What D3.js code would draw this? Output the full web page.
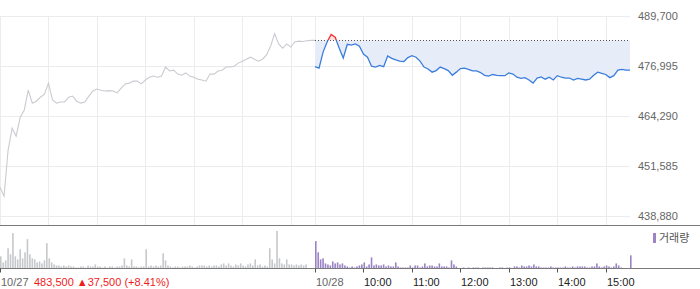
<!DOCTYPE html>
<html>
<head>
<meta charset="utf-8">
<script src="https://cdn.jsdelivr.net/npm/d3@7"></script>
<style>
  body { margin: 0; background: #fff; }
  svg { display: block; font-family: "Liberation Sans", Arial, sans-serif; }
</style>
</head>
<body>
<div id="chart"></div>
<script>
/* DATA */
const prevClose = 483500;
const priceStep = 5;   // minutes between price points
const volStep = 3;     // minutes between volume bars
const dayMinutes = 390;

// 10/27, 09:00 -> 15:30
const day1Price = [
  446100, 443800, 455500, 461100, 459100, 463900, 465700, 470800, 467500, 468000,
  469000, 469800, 472600, 468300, 467500, 467800, 467800, 469000, 469300, 468000,
  467500, 467800, 469300, 470600, 471100, 470800, 470600, 470700, 470600, 470100,
  471300, 472400, 472600, 473100, 473100, 472400, 473400, 474100, 474400, 474100,
  474400, 476700, 475700, 475900, 474900, 474600, 475200, 474400, 474100, 473600,
  473400, 473100, 474900, 474900, 475700, 475900, 476700, 476700, 476900, 477700,
  478200, 478700, 479200, 478700, 478200, 478700, 479800, 482000, 485200, 482600,
  481500, 482600, 481800, 483100, 483300, 483200, 483400, 483500, 483500
];

// 10/28, 09:00 -> 15:30
const day2Price = [
  476800, 476400, 480500, 483100, 485000, 484300, 481500, 479000, 482500, 482300,
  482600, 482000, 480000, 479200, 476900, 476700, 477100, 476800, 479500, 478900,
  478500, 478200, 478100, 479100, 479600, 479200, 478200, 476700, 476200, 475400,
  475800, 476700, 476300, 475800, 474600, 475400, 476300, 476400, 476100, 475700,
  475700, 475300, 474600, 474400, 474800, 474600, 474500, 474500, 475200, 474900,
  474100, 473800, 474000, 473400, 472600, 473900, 474200, 473600, 474100, 473400,
  474500, 474100, 473900, 473900, 473400, 473800, 473600, 473400, 473600, 474600,
  475400, 475100, 474800, 474000, 474500, 475900, 476100, 475900, 475900
];

// volume, thousand shares
const day1Vol = [
  12, 6, 8, 20, 14, 35, 12, 9, 19, 10, 16, 29, 14, 10, 9, 6, 7, 5, 8, 25,
  10, 6, 4, 3, 3, 2, 3, 2, 3, 2, 2, 1, 1, 2, 2, 1, 3, 2, 2, 4,
  2, 2, 1, 2, 1, 2, 2, 1, 2, 2, 3, 10, 3, 2, 9, 2, 2, 1, 2, 2,
  19, 2, 3, 2, 3, 2, 3, 15, 8, 3, 2, 1, 2, 2, 1, 2, 2, 2, 3, 2,
  1, 2, 3, 3, 3, 2, 3, 2, 3, 3, 2, 4, 5, 3, 5, 3, 2, 4, 3, 5,
  3, 2, 4, 5, 3, 9, 3, 4, 2, 3, 2, 20, 9, 5, 37, 10, 5, 4, 9, 4,
  4, 3, 4, 3, 4, 3, 4, 0, 0, 0
];
const day2Vol = [
  27, 16, 9, 10, 5, 4, 3, 7, 5, 6, 4, 5, 3, 2, 1, 2, 1, 2, 3, 4,
  6, 2, 4, 11, 3, 4, 3, 3, 4, 2, 3, 2, 2, 6, 2, 1, 1, 1, 1, 3,
  1, 3, 3, 1, 2, 5, 2, 3, 3, 2, 2, 5, 2, 2, 2, 1, 8, 4, 2, 0,
  0, 1, 0, 1, 0, 1, 1, 1, 0, 1, 1, 1, 1, 1, 0, 0, 1, 1, 0, 1,
  1, 0, 2, 2, 1, 3, 2, 2, 3, 2, 4, 2, 2, 1, 1, 1, 1, 2, 1, 1,
  1, 1, 1, 2, 1, 1, 2, 1, 2, 2, 2, 2, 1, 1, 2, 2, 5, 2, 1, 2,
  3, 2, 1, 2, 5, 3, 1, 0, 0, 0, 13
];

const yTicks = [438880, 451585, 464290, 476995, 489700];
const dateLabels = ["10/27", "10/28"];
const hourLabels = ["10:00", "11:00", "12:00", "13:00", "14:00", "15:00"];
const changeText = "483,500 \u25B237,500 (+8.41%)";

/* LAYOUT */
const W = 700, H = 289,
  plotRight = 630,
  priceTop = 16, priceBottom = 215.5,
  panelLine = 225.5,
  volBottom = 268.5, volTop = 231;

const svg = d3.select("#chart").append("svg")
  .attr("width", W).attr("height", H);

/* SCALES */
const x = d3.scaleLinear().domain([0, dayMinutes * 2]).range([0, plotRight]);
const y = d3.scaleLinear().domain([d3.min(yTicks), d3.max(yTicks)]).range([priceBottom, priceTop]);
const yVol = d3.scaleLinear().domain([0, 37]).range([volBottom, volTop]);

const p1 = day1Price.map((v, i) => ({ t: i * priceStep, v }));
const p2 = day2Price.map((v, i) => ({ t: dayMinutes + i * priceStep, v }));

// hour grid positions (both days)
const hourTimes = [];
for (let d = 0; d < 2; d++) for (let h = 1; h <= 6; h++) hourTimes.push(d * dayMinutes + h * 60);

/* GRID */
const grid = svg.append("g").attr("stroke", "#ececec").attr("stroke-width", 1);
grid.selectAll(".hg").data(yTicks).join("line")
  .attr("x1", 0).attr("x2", plotRight)
  .attr("y1", d => Math.round(y(d)) + 0.5).attr("y2", d => Math.round(y(d)) + 0.5);
grid.selectAll(".vg").data([0, dayMinutes, ...hourTimes]).join("line")
  .attr("x1", d => Math.round(x(d)) + 0.5).attr("x2", d => Math.round(x(d)) + 0.5)
  .attr("y1", priceTop).attr("y2", panelLine);

/* Y AXIS (right) */
svg.append("g")
  .attr("transform", `translate(${plotRight + 8},0)`)
  .call(d3.axisRight(y).tickValues(yTicks).tickFormat(d3.format(",")).tickSize(0).tickPadding(0))
  .call(g => g.select(".domain").remove())
  .selectAll("text")
  .attr("fill", "#666").attr("font-size", 11);

/* PRICE - previous day */
const line = d3.line().x(d => x(d.t)).y(d => y(d.v));
svg.append("path").datum(p1)
  .attr("d", line).attr("fill", "none")
  .attr("stroke", "#c9cbd0").attr("stroke-width", 1.1);

/* PRICE - today, split around previous close */
const base = y(prevClose);
const defs = svg.append("defs");
defs.append("clipPath").attr("id", "above")
  .append("rect").attr("x", 0).attr("y", 0).attr("width", W).attr("height", base);
defs.append("clipPath").attr("id", "below")
  .append("rect").attr("x", 0).attr("y", base).attr("width", W).attr("height", panelLine - base);

const area = d3.area().x(d => x(d.t)).y0(base).y1(d => y(d.v));

svg.append("path").datum(p2).attr("d", area)
  .attr("fill", "#e6edf9").attr("clip-path", "url(#below)");
svg.append("path").datum(p2).attr("d", area)
  .attr("fill", "#fbe3e3").attr("clip-path", "url(#above)");

svg.append("line")
  .attr("x1", x(dayMinutes)).attr("x2", plotRight)
  .attr("y1", Math.round(base) + 0.5).attr("y2", Math.round(base) + 0.5)
  .attr("stroke", "#555").attr("stroke-dasharray", "1,2");

svg.append("path").datum(p2).attr("d", line)
  .attr("fill", "none").attr("stroke", "#3b7ddd").attr("stroke-width", 1.3)
  .attr("clip-path", "url(#below)");
svg.append("path").datum(p2).attr("d", line)
  .attr("fill", "none").attr("stroke", "#f2302f").attr("stroke-width", 1.3)
  .attr("clip-path", "url(#above)");

/* PANEL LINES */
svg.append("line").attr("x1", 0).attr("x2", W)
  .attr("y1", panelLine).attr("y2", panelLine).attr("stroke", "#7a7a7a");

/* VOLUME */
const v1 = day1Vol.map((v, i) => ({ t: i * volStep, v }));
const v2 = day2Vol.map((v, i) => ({ t: dayMinutes + i * volStep, v }));

svg.append("g").selectAll("rect").data(v1).join("rect")
  .attr("x", d => x(d.t)).attr("width", 1.6)
  .attr("y", d => yVol(d.v)).attr("height", d => volBottom - yVol(d.v))
  .attr("fill", "#c6c8cc");
svg.append("g").selectAll("rect").data(v2).join("rect")
  .attr("x", d => x(d.t)).attr("width", 1.6)
  .attr("y", d => yVol(d.v)).attr("height", d => volBottom - yVol(d.v))
  .attr("fill", "#9a84c5");

// legend
svg.append("rect").attr("x", 653).attr("y", 233).attr("width", 3).attr("height", 10).attr("fill", "#9a84c5");
svg.append("text").attr("x", 659).attr("y", 242)
  .attr("font-family", "'Noto Sans CJK KR', sans-serif")
  .attr("font-size", 11).attr("fill", "#555").text("거래량");

/* X AXIS */
svg.append("line").attr("x1", 0).attr("x2", W)
  .attr("y1", volBottom).attr("y2", volBottom).attr("stroke", "#7a7a7a");

const tickTimes = [0, dayMinutes, ...hourTimes.slice(6)];
const tickText = [dateLabels[0], dateLabels[1], ...hourLabels];
const xa = svg.append("g");
xa.selectAll("line").data(tickTimes).join("line")
  .attr("x1", d => Math.round(x(d)) + 0.5).attr("x2", d => Math.round(x(d)) + 0.5)
  .attr("y1", volBottom).attr("y2", volBottom + 4)
  .attr("stroke", "#555");
xa.selectAll("text").data(tickTimes).join("text")
  .attr("x", d => Math.round(x(d)) + 1)
  .attr("y", 286)
  .attr("font-size", 11)
  .attr("fill", (d, i) => i < 2 ? "#666" : "#222")
  .text((d, i) => tickText[i]);

svg.append("text").attr("x", 34).attr("y", 286)
  .attr("font-size", 11).attr("fill", "#f01c1c")
  .text(changeText);
</script>
</body>
</html>
